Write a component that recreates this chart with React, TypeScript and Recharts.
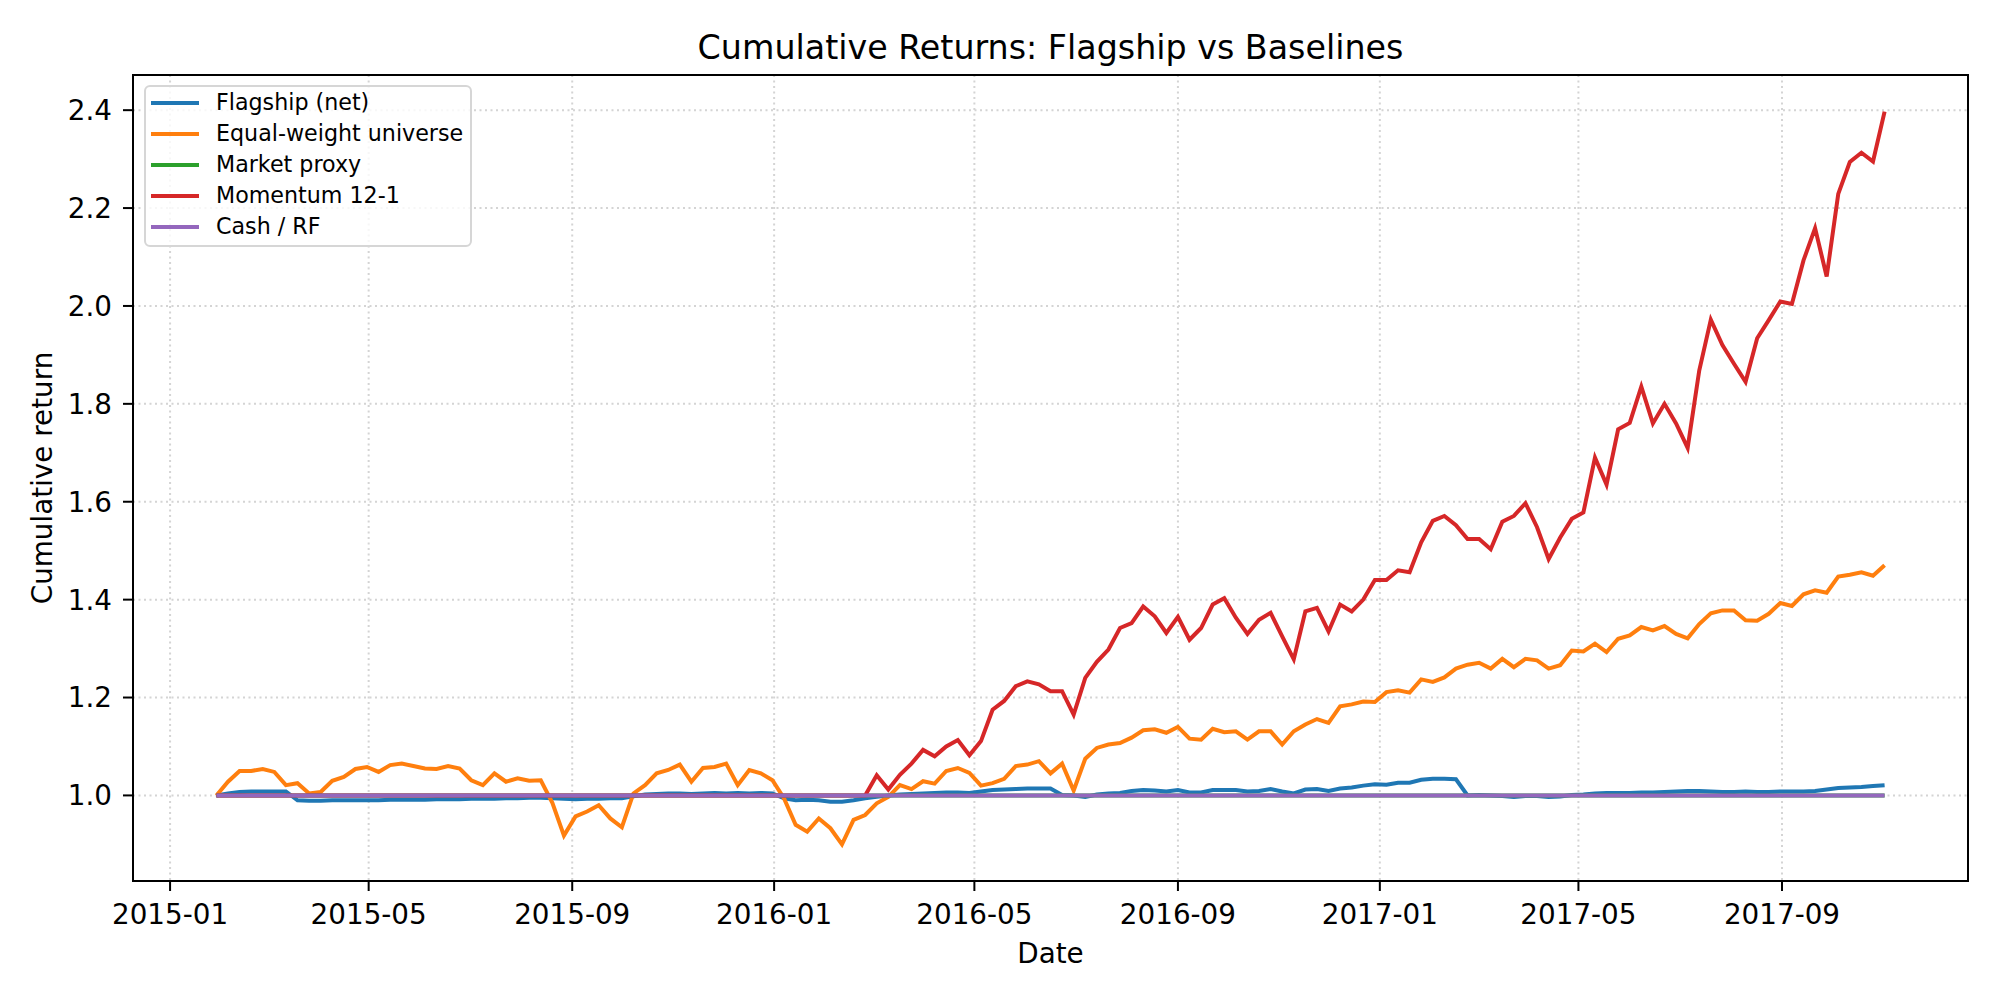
import {
  CartesianGrid,
  Line,
  LineChart,
  ReferenceArea,
  XAxis,
  YAxis,
} from "recharts"

const FONT = "'DejaVu Sans', sans-serif"

// weekly observations starting at this date
const START_DATE = "2015-01-29"
const STEP_DAYS = 7

const X_TICK_LABELS = [
  "2015-01", "2015-05", "2015-09", "2016-01", "2016-05",
  "2016-09", "2017-01", "2017-05", "2017-09",
]
const Y_TICKS = [1.0, 1.2, 1.4, 1.6, 1.8, 2.0, 2.2, 2.4]

const FLAGSHIP = [
  1.000, 1.004, 1.007, 1.008, 1.008, 1.008, 1.008, 0.990, 0.989, 0.989,
  0.990, 0.990, 0.990, 0.990, 0.990, 0.991, 0.991, 0.991, 0.991, 0.992,
  0.992, 0.992, 0.993, 0.993, 0.993, 0.994, 0.994, 0.995, 0.995, 0.994,
  0.993, 0.992, 0.993, 0.993, 0.994, 0.994, 0.998, 1.002, 1.003, 1.004,
  1.004, 1.003, 1.004, 1.005, 1.004, 1.005, 1.004, 1.005, 1.004, 0.994,
  0.990, 0.991, 0.990, 0.987, 0.987, 0.990, 0.994, 0.997, 1.000, 1.002,
  1.003, 1.004, 1.005, 1.006, 1.006, 1.005, 1.008, 1.011, 1.012, 1.013,
  1.014, 1.014, 1.014, 1.001, 1.000, 0.997, 1.002, 1.004, 1.005, 1.009,
  1.011, 1.010, 1.008, 1.011, 1.006, 1.006, 1.011, 1.011, 1.011, 1.008,
  1.009, 1.013, 1.008, 1.004, 1.012, 1.013, 1.009, 1.014, 1.016, 1.020,
  1.023, 1.022, 1.026, 1.026, 1.032, 1.034, 1.034, 1.033, 1.000, 1.001,
  1.000, 0.999, 0.997, 0.999, 0.999, 0.997, 0.998, 1.001, 1.002, 1.004,
  1.005, 1.005, 1.005, 1.006, 1.006, 1.007, 1.008, 1.009, 1.009, 1.008,
  1.007, 1.007, 1.008, 1.007, 1.007, 1.008, 1.008, 1.008, 1.009, 1.012,
  1.015, 1.016, 1.017, 1.019, 1.021,
]

const EQUAL_WEIGHT = [
  1.000, 1.028, 1.050, 1.050, 1.054, 1.048, 1.021, 1.025, 1.004, 1.007,
  1.030, 1.038, 1.054, 1.058, 1.048, 1.062, 1.065, 1.060, 1.055, 1.054,
  1.060, 1.055, 1.031, 1.021, 1.045, 1.028, 1.035, 1.030, 1.031, 0.985,
  0.918, 0.957, 0.967, 0.980, 0.953, 0.935, 1.004, 1.021, 1.045, 1.052,
  1.063, 1.028, 1.056, 1.058, 1.065, 1.021, 1.052, 1.045, 1.031, 0.994,
  0.940, 0.926, 0.953, 0.933, 0.900, 0.950, 0.960, 0.984, 0.997, 1.021,
  1.013, 1.029, 1.024, 1.050, 1.056, 1.046, 1.020, 1.025, 1.034, 1.060,
  1.063, 1.070, 1.045, 1.065, 1.010, 1.075, 1.097, 1.104, 1.107, 1.118,
  1.133, 1.135, 1.128, 1.140, 1.116, 1.114, 1.136, 1.129, 1.131, 1.114,
  1.131, 1.131, 1.104, 1.131, 1.145, 1.156, 1.148, 1.182, 1.186, 1.192,
  1.191, 1.211, 1.215, 1.210, 1.237, 1.232, 1.241, 1.259, 1.267, 1.271,
  1.259, 1.279, 1.262, 1.279, 1.276, 1.259, 1.266, 1.296, 1.294, 1.310,
  1.293, 1.320, 1.327, 1.344, 1.337, 1.346, 1.330, 1.321, 1.350, 1.372,
  1.378, 1.378, 1.358, 1.357, 1.371, 1.393, 1.387, 1.411, 1.419, 1.414,
  1.447, 1.451, 1.456, 1.449, 1.470,
]

// momentum stays flat at its first value until this week
const MOMENTUM_START_WEEK = 56
const MOMENTUM = [
  1.000, 1.041, 1.012, 1.042,
  1.065, 1.093, 1.080, 1.100, 1.113, 1.082, 1.111, 1.175, 1.193, 1.223,
  1.233, 1.227, 1.213, 1.213, 1.165, 1.240, 1.273, 1.298, 1.342, 1.352,
  1.386, 1.366, 1.332, 1.365, 1.318, 1.342, 1.390, 1.403, 1.363, 1.330,
  1.359, 1.373, 1.325, 1.278, 1.376, 1.383, 1.335, 1.390, 1.376, 1.400,
  1.440, 1.440, 1.460, 1.456, 1.517, 1.561, 1.571, 1.552, 1.524, 1.524,
  1.503, 1.559, 1.571, 1.597, 1.548, 1.483, 1.527, 1.565, 1.578, 1.690,
  1.635, 1.748, 1.761, 1.835, 1.760, 1.800, 1.760, 1.710, 1.868, 1.972,
  1.920, 1.882, 1.845, 1.934, 1.971, 2.009, 2.004, 2.093, 2.159, 2.060,
  2.229, 2.294, 2.313, 2.295, 2.397,
]

// flat series: value at first and last week
const MARKET_PROXY = [1.0, 1.0]
const CASH_RF = [1.0, 1.0]

const DAY_MS = 86400000
const BASE = Date.UTC(2015, 0, 1)
const toDay = (iso: string) => {
  const [y, m, d] = iso.split("-").map(Number)
  return (Date.UTC(y, m - 1, d || 1) - BASE) / DAY_MS
}

const startDay = toDay(START_DATE)
const weekDay = (i: number) => startDay + i * STEP_DAYS
const lastWeek = FLAGSHIP.length - 1

const flagshipData = FLAGSHIP.map((v, i) => ({ day: weekDay(i), v }))
const equalData = EQUAL_WEIGHT.map((v, i) => ({ day: weekDay(i), v }))
const momentumData = [
  { day: weekDay(0), v: MOMENTUM[0] },
  ...MOMENTUM.map((v, k) => ({ day: weekDay(MOMENTUM_START_WEEK + k), v })),
]
const marketData = [
  { day: weekDay(0), v: MARKET_PROXY[0] },
  { day: weekDay(lastWeek), v: MARKET_PROXY[1] },
]
const cashData = [
  { day: weekDay(0), v: CASH_RF[0] },
  { day: weekDay(lastWeek), v: CASH_RF[1] },
]

const SERIES = [
  { name: "Flagship (net)", color: "#1f77b4", data: flagshipData },
  { name: "Equal-weight universe", color: "#ff7f0e", data: equalData },
  { name: "Market proxy", color: "#2ca02c", data: marketData },
  { name: "Momentum 12-1", color: "#d62728", data: momentumData },
  { name: "Cash / RF", color: "#9467bd", data: cashData },
]

// matplotlib-style 5% margins
const xMin = weekDay(0)
const xMax = weekDay(lastWeek)
const xPad = (xMax - xMin) * 0.05
const X_DOMAIN: [number, number] = [xMin - xPad, xMax + xPad]

const allValues = [...FLAGSHIP, ...EQUAL_WEIGHT, ...MOMENTUM, ...CASH_RF]
const yLo = Math.min(...allValues)
const yHi = Math.max(...allValues)
const yPad = (yHi - yLo) * 0.05
const Y_DOMAIN: [number, number] = [yLo - yPad, yHi + yPad]

const X_TICKS = X_TICK_LABELS.map(toDay)

function LegendBox() {
  return (
    <div
      style={{
        position: "absolute",
        left: 144,
        top: 85,
        width: 328,
        height: 162,
        boxSizing: "border-box",
        border: "2px solid #d6d6d6",
        borderRadius: 6,
        background: "rgba(255,255,255,0.8)",
        fontFamily: FONT,
        fontSize: 22.2,
        color: "#000",
      }}
    >
      {SERIES.map((s) => (
        <div
          key={s.name}
          style={{ height: 31, display: "flex", alignItems: "center" }}
        >
          <span
            style={{
              display: "inline-block",
              width: 48,
              height: 4,
              marginLeft: 5,
              background: s.color,
            }}
          />
          <span style={{ marginLeft: 17, lineHeight: 1 }}>{s.name}</span>
        </div>
      ))}
    </div>
  )
}

export default function App() {
  const tickStyle = { fill: "#000", fontSize: 27.8, fontFamily: FONT }
  return (
    <div style={{ position: "relative", width: 2000, height: 1000, background: "#fff" }}>
      <style>{"body{margin:0}"}</style>
      <LineChart
        width={2000}
        height={1000}
        margin={{ top: 75, right: 32, bottom: 59, left: 33 }}
      >
        <CartesianGrid
          stroke="#d4d4d4"
          strokeWidth={2}
          strokeDasharray="2 3.5"
        />
        <XAxis
          dataKey="day"
          type="number"
          scale="linear"
          domain={X_DOMAIN}
          ticks={X_TICKS}
          tickFormatter={(d: number) => X_TICK_LABELS[X_TICKS.indexOf(d)] ?? ""}
          height={60}
          tick={tickStyle}
          tickSize={10}
          tickMargin={13}
          tickLine={{ stroke: "#000", strokeWidth: 2 }}
          axisLine={{ stroke: "#000", strokeWidth: 2 }}
          allowDataOverflow
        />
        <YAxis
          type="number"
          domain={Y_DOMAIN}
          ticks={Y_TICKS}
          tickFormatter={(v: number) => v.toFixed(1)}
          width={100}
          tick={tickStyle}
          tickSize={10}
          tickMargin={11}
          tickLine={{ stroke: "#000", strokeWidth: 2 }}
          axisLine={{ stroke: "#000", strokeWidth: 2 }}
          allowDataOverflow
        />
        {SERIES.map((s) => (
          <Line
            key={s.name}
            data={s.data}
            dataKey="v"
            name={s.name}
            type="linear"
            stroke={s.color}
            strokeWidth={4}
            dot={false}
            activeDot={false}
            isAnimationActive={false}
          />
        ))}
        <ReferenceArea
          x1={X_DOMAIN[0]}
          x2={X_DOMAIN[1]}
          y1={Y_DOMAIN[0]}
          y2={Y_DOMAIN[1]}
          fill="none"
          stroke="#000"
          strokeWidth={2}
          ifOverflow="visible"
        />
      </LineChart>
      <LegendBox />
      <svg
        width={2000}
        height={1000}
        style={{ position: "absolute", left: 0, top: 0, pointerEvents: "none" }}
        fontFamily={FONT}
      >
        <text x={1050.5} y={47} textAnchor="middle" dominantBaseline="central" fontSize={33.3}>
          Cumulative Returns: Flagship vs Baselines
        </text>
        <text x={1050.5} y={953} textAnchor="middle" dominantBaseline="central" fontSize={27.8}>
          Date
        </text>
        <text
          x={0}
          y={0}
          transform="translate(42 478) rotate(-90)"
          textAnchor="middle"
          dominantBaseline="central"
          fontSize={27.8}
        >
          Cumulative return
        </text>
      </svg>
    </div>
  )
}
